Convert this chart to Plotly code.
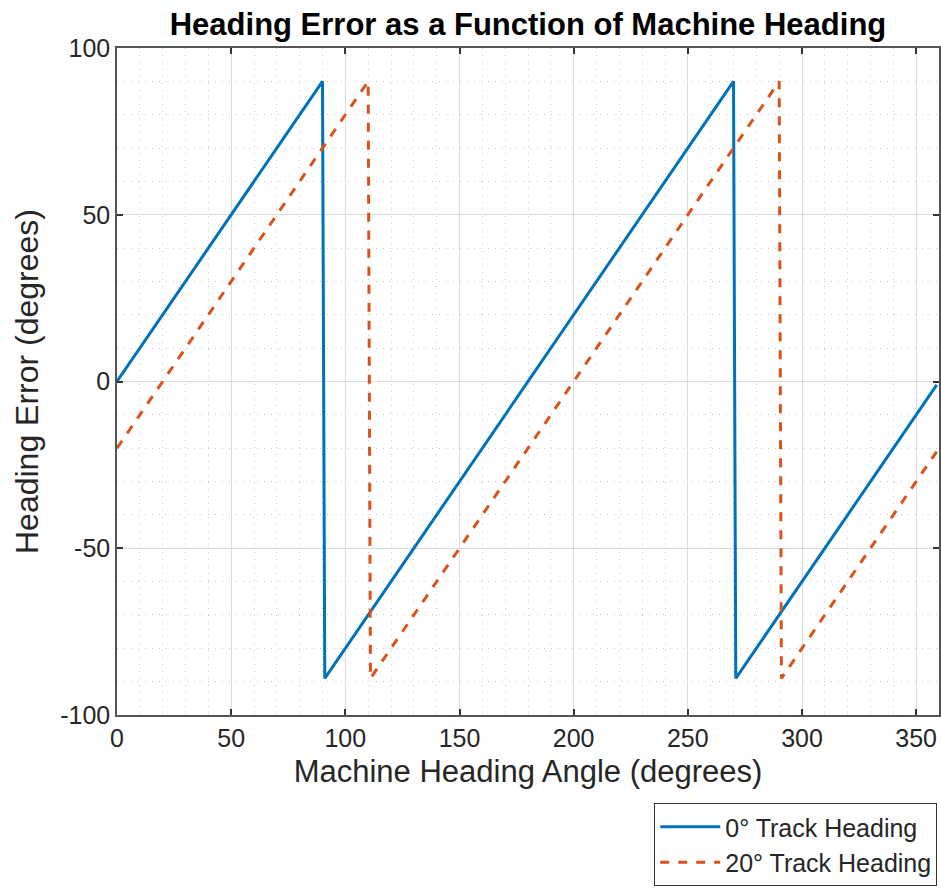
import plotly.graph_objects as go

# Data (breakpoints of the sawtooth curves)
x_track0 = [0, 90, 91, 270, 271, 359]
y_track0 = [0, 90, -89, 90, -89, -1]
x_track20 = [0, 110, 111, 290, 291, 359]
y_track20 = [-20, 90, -89, 90, -89, -21]

series_names = ["0° Track Heading", "20° Track Heading"]
x_ticks = [0, 50, 100, 150, 200, 250, 300, 350]
x_tick_text = ["0", "50", "100", "150", "200", "250", "300", "350"]
y_ticks = [-100, -50, 0, 50, 100]
y_tick_text = ["-100", "-50", "0", "50", "100"]

FONT = "Liberation Sans, Arial, Helvetica, sans-serif"
AX = "#262626"

fig = go.Figure()
fig.add_trace(go.Scatter(x=x_track0, y=y_track0, mode="lines", name=series_names[0],
                         line=dict(color="#0072BD", width=3)))
fig.add_trace(go.Scatter(x=x_track20, y=y_track20, mode="lines", name=series_names[1],
                         line=dict(color="#D95319", width=3, dash="dash")))

axis_common = dict(
    showline=True, linecolor="#555555", linewidth=1.5, mirror="ticks",
    ticks="inside", ticklen=6, tickcolor="#333333", tickwidth=1.5,
    showgrid=True, gridcolor="#DCDCDC", gridwidth=1,
    zeroline=False,
    tickfont=dict(family=FONT, size=25, color=AX),
    minor=dict(showgrid=True, gridcolor="#C8C8C8", griddash="1px,6px", gridwidth=1, ticks=""),
)

fig.update_layout(
    width=941, height=888,
    margin=dict(l=117, r=2, t=48, b=173, autoexpand=False),
    paper_bgcolor="white", plot_bgcolor="white",
    title=dict(text="<b>Heading Error as a Function of Machine Heading</b>",
               font=dict(family=FONT, size=31, color="black"),
               x=0.5, xref="paper", xanchor="center",
               y=1 - 24 / 888, yref="container", yanchor="middle"),
    xaxis=dict(range=[0, 360], tickvals=x_ticks, ticktext=x_tick_text, **axis_common,
               title=dict(text="Machine Heading Angle (degrees)",
                          font=dict(family=FONT, size=31, color=AX), standoff=10)),
    yaxis=dict(range=[-100, 100], tickvals=y_ticks, ticktext=y_tick_text, **axis_common,
               title=dict(text="Heading Error (degrees)",
                          font=dict(family=FONT, size=32, color=AX), standoff=12)),
    showlegend=True,
    legend=dict(xref="container", yref="container", x=0.996, xanchor="right",
                y=2 / 888, yanchor="bottom",
                bordercolor="#333333", borderwidth=1, bgcolor="white",
                font=dict(family=FONT, size=25, color=AX),
                tracegroupgap=0, itemwidth=60),
)
fig.update_xaxes(minor_dtick=10, minor_tick0=0)
fig.update_yaxes(minor_dtick=10, minor_tick0=0)

fig.write_html("out.html")
